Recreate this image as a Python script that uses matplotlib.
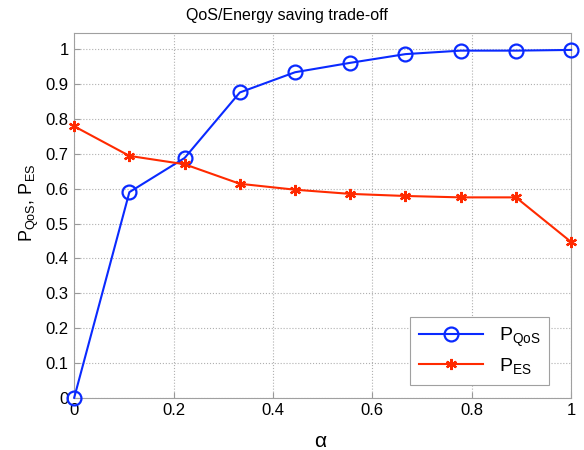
import numpy as np
import matplotlib
matplotlib.use("Agg")
import matplotlib.pyplot as plt

plt.rcParams['font.family'] = ['Liberation Sans', 'DejaVu Sans']
plt.rcParams['mathtext.fontset'] = 'custom'
plt.rcParams['mathtext.rm'] = 'Liberation Sans'
plt.rcParams['mathtext.it'] = 'Liberation Sans:italic'

alpha = np.arange(10) / 9.0
p_qos = [0.0, 0.590, 0.688, 0.876, 0.934, 0.961, 0.986, 0.996, 0.996, 0.998]
p_es = [0.779, 0.694, 0.670, 0.614, 0.597, 0.585, 0.579, 0.575, 0.575, 0.447]

fig = plt.figure(figsize=(5.84, 4.5), dpi=100)
ax = fig.add_axes([0.127, 0.116, 0.851, 0.811])

ax.plot(alpha, p_qos, color='#0a2aff', lw=1.5, marker='o', ms=10,
        mfc='none', mew=1.6, label=r'$\mathrm{P}_{\mathrm{QoS}}$', clip_on=False, zorder=3)
ax.plot(alpha, p_es, color='#ff2a00', lw=1.5, marker=(6, 2, 0), ms=8,
        mew=1.6, label=r'$\mathrm{P}_{\mathrm{ES}}$', clip_on=False, zorder=3)

ax.set_xlim(0, 1)
ax.set_ylim(0, 1.047)
ax.set_xticks(np.arange(0, 1.01, 0.2))
ax.set_xticklabels(['0', '0.2', '0.4', '0.6', '0.8', '1'])
ax.set_yticks(np.arange(0, 1.01, 0.1))
ax.set_yticklabels(['0', '0.1', '0.2', '0.3', '0.4', '0.5', '0.6', '0.7', '0.8', '0.9', '1'])
ax.tick_params(direction='in', labelsize=12, length=4, color='#999999', pad=4)
for s in ax.spines.values():
    s.set_color('#a0a0a0')
ax.grid(True, linestyle=':', color='#b0b0b0', lw=0.8)

fig.text(0.492, 0.966, 'QoS/Energy saving trade-off', fontsize=11.5,
         ha='center', va='center')
ax.set_xlabel('α', fontsize=15)
ax.xaxis.set_label_coords(0.496, -0.095)
ax.set_ylabel(r'$\mathrm{P}_{\mathrm{QoS}}\mathrm{,}\ \mathrm{P}_{\mathrm{ES}}$', fontsize=13)
ax.yaxis.set_label_coords(-0.066, 0.535)

leg = ax.legend(loc='lower right', bbox_to_anchor=(0.956, 0.036), fontsize=14,
                fancybox=False, framealpha=1, edgecolor='#a0a0a0',
                handlelength=3.3, borderpad=0.45, labelspacing=0.35,
                borderaxespad=0)
leg.get_frame().set_linewidth(0.8)

fig.savefig('out.png', dpi=100)
